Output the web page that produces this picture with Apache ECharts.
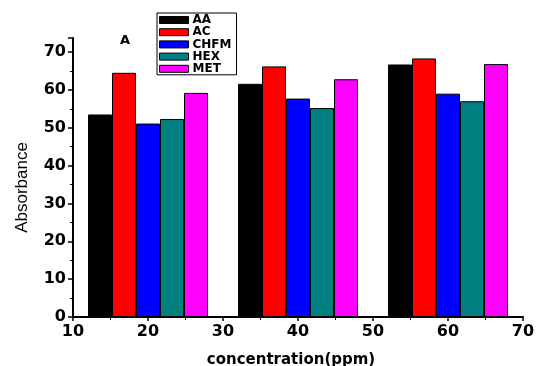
<!DOCTYPE html>
<html>
<head>
<meta charset="utf-8">
<script src="https://cdn.jsdelivr.net/npm/echarts@6/dist/echarts.min.js"></script>
<style>html,body{margin:0;padding:0;background:#fff}#c{width:536px;height:366px}</style>
</head>
<body>
<div id="c"></div>
<script>
var concentrations = [20, 40, 60];
var seriesNames = ['AA', 'AC', 'CHFM', 'HEX', 'MET'];
var AA   = [53.5, 61.6, 66.7];
var AC   = [64.5, 66.2, 68.3];
var CHFM = [51.1, 57.7, 59.0];
var HEX  = [52.3, 55.2, 57.0];
var MET  = [59.2, 62.8, 66.8];
var xTicks = [10, 20, 30, 40, 50, 60, 70];
var yTicks = [0, 10, 20, 30, 40, 50, 60, 70];
var colors = ['#000000', '#ff0000', '#0000ff', '#008080', '#ff00ff'];

var values = [AA, AC, CHFM, HEX, MET];
var chart = echarts.init(document.getElementById('c'), null, {renderer: 'canvas'});
var tickFont = {color: '#000', fontFamily: 'DejaVu Sans', fontWeight: 'bold', fontSize: 16};
chart.setOption({
  animation: false,
  backgroundColor: '#fff',
  grid: {left: 73, right: 13, top: 38, bottom: 49, containLabel: false, outerBoundsMode: 'none'},
  legend: {
    orient: 'vertical', left: 157, top: 13,
    padding: [1, 5, 0, 2],
    itemWidth: 29, itemHeight: 7, itemGap: 0.2,
    borderColor: '#000', borderWidth: 1,
    icon: 'rect',
    itemStyle: {borderColor: '#000', borderWidth: 1},
    textStyle: {color: '#000', fontFamily: 'DejaVu Sans', fontWeight: 'bold', fontSize: 12, lineHeight: 12, padding: [0, 0, 0, -1]},
    data: seriesNames
  },
  xAxis: {
    type: 'value', min: xTicks[0], max: xTicks[xTicks.length - 1], interval: 10,
    name: 'concentration(ppm)', nameLocation: 'middle', nameGap: 36,
    nameTextStyle: {color: '#000', fontFamily: 'DejaVu Sans', fontWeight: 'bold', fontSize: 15, padding: [0, 14, 0, 0]},
    axisLine: {lineStyle: {color: '#000', width: 2}},
    axisTick: {show: true, length: 4, lineStyle: {color: '#000', width: 1.5}},
    minorTick: {show: true, splitNumber: 2, length: 3, lineStyle: {color: '#000', width: 1}},
    splitLine: {show: false},
    axisLabel: Object.assign({margin: 7}, tickFont)
  },
  yAxis: {
    type: 'value', min: 0, max: 73.7, interval: 10,
    name: 'Absorbance', nameLocation: 'middle', nameGap: 42,
    nameTextStyle: {color: '#000', fontFamily: 'Liberation Sans, Arial', fontSize: 17, padding: [0, 20, 0, 0]},
    axisLine: {show: true, lineStyle: {color: '#000', width: 2}},
    axisTick: {show: true, length: 5, lineStyle: {color: '#000', width: 1.5}},
    minorTick: {show: true, splitNumber: 2, length: 3, lineStyle: {color: '#000', width: 1}},
    splitLine: {show: false},
    axisLabel: Object.assign({margin: 7, showMaxLabel: false, formatter: function (v) { return yTicks.indexOf(v) >= 0 ? String(v) : ''; }}, tickFont)
  },
  graphic: [{
    type: 'text', left: 120, top: 34,
    style: {text: 'A', fill: '#000', font: 'bold 13px "DejaVu Sans"'}
  }],
  series: seriesNames.map(function (name, i) {
    return {
      name: name, type: 'bar', barWidth: 24, barGap: '0%',
      itemStyle: {color: colors[i], borderColor: '#000', borderWidth: 1},
      data: concentrations.map(function (c, j) { return [c, values[i][j]]; })
    };
  })
});
</script>
</body>
</html>
